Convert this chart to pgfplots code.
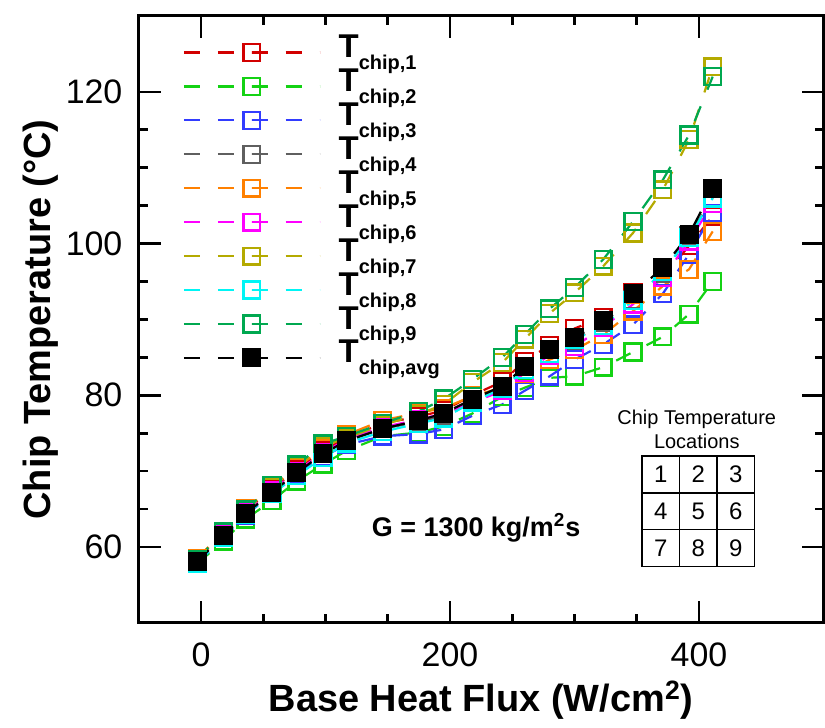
\documentclass[border=0pt]{standalone}
\usepackage{pgfplots}
\usepackage{pgfplotstable}
\pgfplotsset{compat=1.18}
\usepackage{fontspec}
\setmainfont{Liberation Sans}
\definecolor{c1}{RGB}{210,0,0}
\definecolor{c2}{RGB}{20,210,20}
\definecolor{c3}{RGB}{50,60,255}
\definecolor{c4}{RGB}{95,95,95}
\definecolor{c5}{RGB}{255,128,0}
\definecolor{c6}{RGB}{255,0,255}
\definecolor{c7}{RGB}{180,170,0}
\definecolor{c8}{RGB}{0,245,245}
\definecolor{c9}{RGB}{0,168,80}
\pgfplotstableread{
x    c1    c2    c3    c4    c5    c6    c7    c8    c9    avg
-3   58.4  57.8  57.9  58.1  58.5  58.2  58.3  57.9  58.4  58.1
18   61.9  60.8  61.2  61.6  62.0  61.8  61.9  61.3  62.0  61.5
36   64.8  63.7  64.2  64.5  65.0  64.6  64.8  64.3  64.9  64.4
57   67.6  66.1  67.0  67.3  67.9  67.4  67.9  67.0  68.1  67.2
77   70.2  68.7  69.5  69.9  70.5  70.0  70.6  69.4  70.8  69.8
98   72.7  70.9  71.9  72.3  73.0  72.4  73.3  71.8  73.6  72.3
117  74.4  72.7  73.5  74.0  74.8  74.2  74.4  73.7  74.6  74.0
146  76.3  74.6  74.6  75.6  76.7  75.8  76.1  75.2  76.3  75.6
175  77.2  75.1  74.9  76.5  77.7  76.8  77.5  76.3  77.9  76.7
195  78.0  75.9  75.5  77.3  78.3  77.6  78.8  77.0  79.5  77.6
218  80.0  77.6  77.3  79.2  79.9  79.0  81.7  79.1  82.1  79.5
242  81.8  79.8  78.8  81.0  81.0  80.6  84.3  80.9  85.0  81.2
260  84.5  81.0  80.6  83.4  82.9  83.0  87.4  83.4  88.0  83.8
280  86.6  82.3  82.5  85.4  84.7  85.3  90.8  85.5  91.4  86.0
300  88.8  82.5  84.7  87.2  86.0  86.4  93.5  87.3  94.2  87.6
323  90.3  83.7  86.7  89.6  88.0  89.0  97.0  89.2  97.9  89.9
347  93.6  85.7  89.3  92.6  91.1  92.0  101.4 92.5  102.9 93.4
371  95.6  87.7  93.4  96.0  94.4  95.5  107.1 96.3  108.4 96.8
392  99.7  90.7  98.6  101.0 96.6  100.3 113.7 100.8 114.3 101.2
411  103.6 95.0  104.0 106.0 101.6 105.3 123.3 106.0 122.0 107.2
}\datatable
\newcommand{\Tc}[1]{{\fontsize{16.5}{16.5}\selectfont\bfseries T}\raisebox{-6pt}{\fontsize{10}{10}\selectfont\bfseries chip,#1}}
\begin{document}
\begin{tikzpicture}
\begin{axis}[
  scale only axis, width=343pt, height=304pt,
  xmin=-50, xmax=500, ymin=50, ymax=130,
  xtick={0,200,400}, ytick={60,80,100,120},
  minor x tick num=3, minor y tick num=3,
  tick align=inside, major tick length=11pt, minor tick length=4.5pt,
  axis line style={line width=1.5pt},
  every tick/.style={black, line width=1.3pt},
  /pgf/number format/assume math mode=true,
  tick label style={font=\fontsize{17}{17}\selectfont, inner sep=0pt},
  yticklabel style={xshift=-8pt},
  xticklabel style={yshift=-10pt},
  xlabel={Base Heat Flux (W/cm\textsuperscript{2})},
  ylabel={Chip Temperature (°C)},
  label style={font=\fontsize{19}{19}\selectfont\bfseries},
  xlabel style={at={(axis description cs:0.5,-0.127)}, anchor=center},
  ylabel style={at={(axis description cs:-0.143,0.5)}, anchor=center},
  legend style={at={(axis description cs:0.055,0.975)}, anchor=north west, draw=none, fill=none,
    row sep=0pt, nodes={inner sep=0pt, text height=11pt, text depth=6pt},
    /tikz/every odd column/.append style={column sep=9pt}},
  legend cell align=left,
  legend image code/.code={\draw[#1, mark repeat=2, mark phase=2] plot coordinates {(0pt,0pt) (34pt,0pt) (68pt,0pt)};},
  every axis plot/.append style={line width=1.1pt, dash pattern=on 8pt off 9pt, mark=square, mark size=4.2pt, mark options={solid, line width=1.2pt}},
]
\addplot[c1] table[x=x,y=c1]{\datatable}; \addlegendentry{\Tc{1}}
\addplot[c2] table[x=x,y=c2]{\datatable}; \addlegendentry{\Tc{2}}
\addplot[c3] table[x=x,y=c3]{\datatable}; \addlegendentry{\Tc{3}}
\addplot[c4] table[x=x,y=c4]{\datatable}; \addlegendentry{\Tc{4}}
\addplot[c5] table[x=x,y=c5]{\datatable}; \addlegendentry{\Tc{5}}
\addplot[c6] table[x=x,y=c6]{\datatable}; \addlegendentry{\Tc{6}}
\addplot[c7] table[x=x,y=c7]{\datatable}; \addlegendentry{\Tc{7}}
\addplot[c8] table[x=x,y=c8]{\datatable}; \addlegendentry{\Tc{8}}
\addplot[c9] table[x=x,y=c9]{\datatable}; \addlegendentry{\Tc{9}}
\addplot[black, mark=square*, mark options={solid, fill=black}] table[x=x,y=avg]{\datatable}; \addlegendentry{\Tc{avg}}
\node[font=\fontsize{13.5}{13.5}\selectfont\bfseries] at (axis cs:221,62.5) {G = 1300 kg/m\textsuperscript{2}s};
\node[font=\fontsize{10}{10}\selectfont] at (axis cs:398.2,76.84) {Chip Temperature};
\node[font=\fontsize{10}{10}\selectfont] at (axis cs:398.2,73.95) {Locations};
\draw[line width=0.7pt] (axis cs:354.1,57.4) rectangle (axis cs:444.7,72.0);
\draw[line width=0.7pt] (axis cs:384.3,57.4) -- (axis cs:384.3,72.0);
\draw[line width=0.7pt] (axis cs:414.5,57.4) -- (axis cs:414.5,72.0);
\draw[line width=0.7pt] (axis cs:354.1,62.27) -- (axis cs:444.7,62.27);
\draw[line width=0.7pt] (axis cs:354.1,67.13) -- (axis cs:444.7,67.13);
\node[font=\fontsize{12}{12}\selectfont] at (axis cs:369.2,69.57) {1};
\node[font=\fontsize{12}{12}\selectfont] at (axis cs:399.4,69.57) {2};
\node[font=\fontsize{12}{12}\selectfont] at (axis cs:429.6,69.57) {3};
\node[font=\fontsize{12}{12}\selectfont] at (axis cs:369.2,64.70) {4};
\node[font=\fontsize{12}{12}\selectfont] at (axis cs:399.4,64.70) {5};
\node[font=\fontsize{12}{12}\selectfont] at (axis cs:429.6,64.70) {6};
\node[font=\fontsize{12}{12}\selectfont] at (axis cs:369.2,59.83) {7};
\node[font=\fontsize{12}{12}\selectfont] at (axis cs:399.4,59.83) {8};
\node[font=\fontsize{12}{12}\selectfont] at (axis cs:429.6,59.83) {9};
\end{axis}
\path ([xshift=-69.5pt,yshift=-52.5pt]current axis.south west) rectangle ([yshift=8pt]current axis.north east);
\end{tikzpicture}
\end{document}
